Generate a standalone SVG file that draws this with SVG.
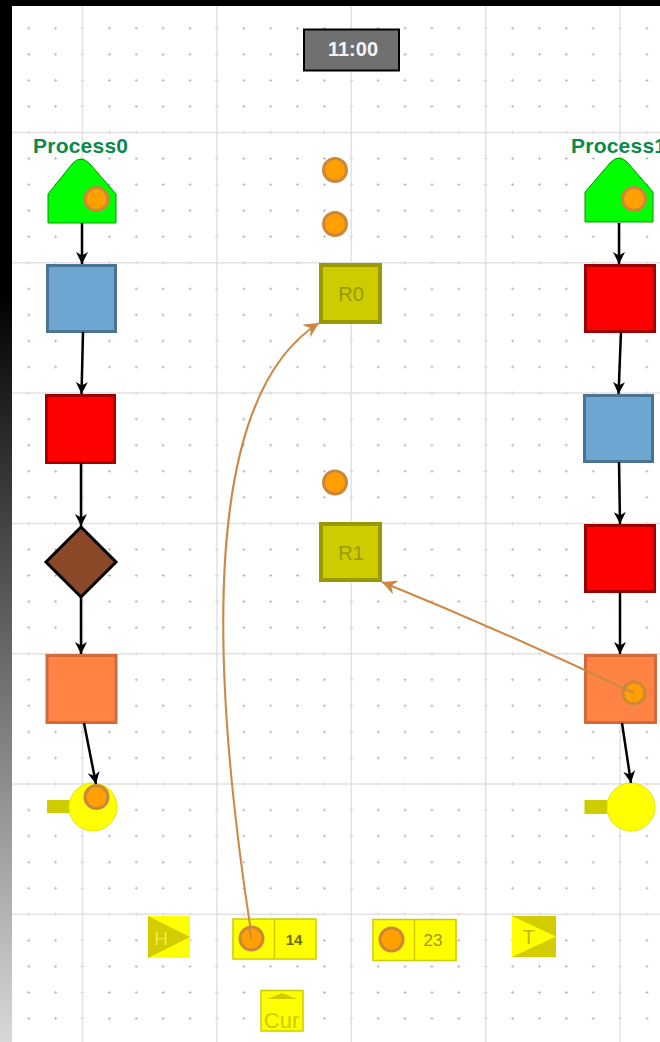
<svg xmlns="http://www.w3.org/2000/svg" width="660" height="1042" viewBox="0 0 660 1042">
  <defs>
    <pattern id="dots" patternUnits="userSpaceOnUse" x="69.06" y="119.47" width="26.88" height="26.06">
      <path d="M11.94,13.03 h3 M13.44,11.53 v3" stroke="#bcbcbc" stroke-width="1"/>
    </pattern>
    <linearGradient id="edge" x1="0" y1="0" x2="0" y2="1">
      <stop offset="0.28" stop-color="#000"/>
      <stop offset="1" stop-color="#d8d8d8"/>
    </linearGradient>
    <marker id="arrow" viewBox="0 0 12 12" refX="12" refY="6" markerWidth="12" markerHeight="12" markerUnits="userSpaceOnUse" orient="auto">
      <path d="M0,0 L12,6 L0,12 L3.5,6 z" fill="#000"/>
    </marker>
    <marker id="arcArrow" viewBox="0 0 12 12" refX="12" refY="6" markerWidth="15" markerHeight="15" markerUnits="userSpaceOnUse" orient="auto">
      <path d="M0,0 L12,6 L0,12 L4,6 z" fill="#cc8844"/>
    </marker>
    <style>
      .major { stroke: #e2e2e2; stroke-width: 1.5; }
      .flow { stroke: #000; stroke-width: 2.5; fill: none; marker-end: url(#arrow); }
      .arc { stroke: #cc8844; stroke-width: 2; fill: none; marker-end: url(#arcArrow); }
      .token { fill: #ffa000; stroke: #cc8838; stroke-width: 3; }
      .label { font-family: "Liberation Sans", Arial, sans-serif; font-weight: bold; font-size: 21px; fill: #0a8a4a; }
      .src { fill: #00ff00; stroke: #009900; stroke-width: 1; }
      .blue { fill: #6ea6d2; stroke: #4a7394; stroke-width: 3; }
      .red { fill: #ff0000; stroke: #a00000; stroke-width: 3; }
      .orange { fill: #ff8444; stroke: #d2693a; stroke-width: 3; }
      .sink { fill: #ffff00; stroke: #e6e600; stroke-width: 1; }
      .tab { fill: #cccc00; }
      .res { fill: #cccc00; stroke: #999900; stroke-width: 4; }
      .restext { font-family: "Liberation Sans", Arial, sans-serif; font-size: 20px; fill: #999900; text-anchor: middle; }
      .qbox { fill: #ffff00; stroke: #cccc00; stroke-width: 1.5; }
    </style>
  </defs>

  <!-- canvas and grid -->
  <rect x="0" y="0" width="660" height="1042" fill="#fff"/>
  <rect x="0" y="0" width="660" height="1042" fill="url(#dots)"/>
  <g id="grid">
    <line class="major" x1="82.5" y1="0" x2="82.5" y2="1042"/>
    <line class="major" x1="216.9" y1="0" x2="216.9" y2="1042"/>
    <line class="major" x1="351.3" y1="0" x2="351.3" y2="1042"/>
    <line class="major" x1="485.7" y1="0" x2="485.7" y2="1042"/>
    <line class="major" x1="620.1" y1="0" x2="620.1" y2="1042"/>
    <line class="major" x1="0" y1="132.5" x2="660" y2="132.5"/>
    <line class="major" x1="0" y1="262.8" x2="660" y2="262.8"/>
    <line class="major" x1="0" y1="393.1" x2="660" y2="393.1"/>
    <line class="major" x1="0" y1="523.4" x2="660" y2="523.4"/>
    <line class="major" x1="0" y1="653.7" x2="660" y2="653.7"/>
    <line class="major" x1="0" y1="784" x2="660" y2="784"/>
    <line class="major" x1="0" y1="914.3" x2="660" y2="914.3"/>
  </g>

  <!-- window frame -->
  <rect x="0" y="0" width="660" height="6" fill="#000"/>
  <rect x="0" y="0" width="12" height="1042" fill="url(#edge)"/>

  <!-- clock -->
  <g id="clock">
    <rect x="304" y="29.5" width="95" height="41" fill="#707070" stroke="#000" stroke-width="2"/>
    <text x="353" y="56" font-family="Liberation Sans, Arial, sans-serif" font-size="20" font-weight="bold" fill="#f4f4f4" text-anchor="middle">11:00</text>
  </g>

  <!-- Process0 column -->
  <g id="process0-label"><text class="label" x="33" y="153" textLength="95">Process0</text></g>
  <g id="p0-source">
    <path class="src" d="M48,223 V194 L72,164 Q81,154 90,164 L116,194 V223 Z"/>
    <circle class="token" cx="96.5" cy="199" r="11.5"/>
  </g>
  <g id="p0-step1"><rect class="blue" x="47.5" y="265.5" width="68" height="66"/></g>
  <g id="p0-step2"><rect class="red" x="46.5" y="395.5" width="68" height="67"/></g>
  <g id="p0-decision"><path d="M81,527 L116,562 L81,597 L46,562 Z" fill="#8b4828" stroke="#000" stroke-width="3" stroke-linejoin="miter"/></g>
  <g id="p0-step3"><rect class="orange" x="47" y="655.5" width="69" height="67"/></g>
  <g id="p0-sink">
    <rect class="tab" x="47" y="800" width="23" height="13"/>
    <circle class="sink" cx="93" cy="807" r="24"/>
    <circle class="token" cx="96.5" cy="797" r="11.5"/>
  </g>

  <!-- Process1 column -->
  <g id="process1-label"><text class="label" x="571" y="153" textLength="95">Process1</text></g>
  <g id="p1-source">
    <path class="src" d="M585,222 V192 L610,163 Q619,153 628,163 L653,192 V222 Z"/>
    <circle class="token" cx="634" cy="199" r="11.5"/>
  </g>
  <g id="p1-step1"><rect class="red" x="585.5" y="265.5" width="69" height="66"/></g>
  <g id="p1-step2"><rect class="blue" x="584.5" y="395.5" width="68" height="66"/></g>
  <g id="p1-step3"><rect class="red" x="585.5" y="525.5" width="69" height="66"/></g>
  <g id="p1-step4">
    <rect class="orange" x="585.5" y="655.5" width="70" height="67"/>
    <circle class="token" cx="634" cy="693" r="11"/>
  </g>
  <g id="p1-sink">
    <rect class="tab" x="584.5" y="800" width="23" height="14"/>
    <circle class="sink" cx="631" cy="807" r="24"/>
  </g>

  <!-- shared resources -->
  <g id="r0-waiting">
    <circle class="token" cx="335" cy="170" r="11.5"/>
    <circle class="token" cx="335" cy="224" r="11.5"/>
  </g>
  <g id="R0">
    <rect class="res" x="321" y="265" width="59" height="57"/>
    <text class="restext" x="351" y="301">R0</text>
  </g>
  <g id="r1-waiting"><circle class="token" cx="335" cy="482.5" r="11.5"/></g>
  <g id="R1">
    <rect class="res" x="321" y="524" width="59" height="56"/>
    <text class="restext" x="351" y="560">R1</text>
  </g>

  <!-- bottom controls -->
  <g id="head">
    <rect x="148" y="916" width="42" height="42" fill="#ffff00"/>
    <path d="M148,916 L190,937 L148,958 Z" fill="#d2cc00"/>
    <text x="161" y="945" font-family="Liberation Sans, Arial, sans-serif" font-size="19" fill="#eeee40" text-anchor="middle">H</text>
  </g>
  <g id="queue0">
    <rect class="qbox" x="233" y="919" width="83" height="40"/>
    <line x1="274.5" y1="919" x2="274.5" y2="959" stroke="#cccc00" stroke-width="1.5"/>
    <text x="294" y="944.5" font-family="Liberation Sans, Arial, sans-serif" font-size="15" font-weight="bold" fill="#6a6a00" text-anchor="middle">14</text>
  </g>
  <g id="queue1">
    <rect class="qbox" x="373" y="919.5" width="83" height="41"/>
    <line x1="414.5" y1="919.5" x2="414.5" y2="960.5" stroke="#cccc00" stroke-width="1.5"/>
    <circle class="token" cx="391.5" cy="939.5" r="11.5"/>
    <text x="433" y="945.5" font-family="Liberation Sans, Arial, sans-serif" font-size="17" fill="#999900" text-anchor="middle">23</text>
  </g>
  <g id="tail">
    <rect x="512" y="916" width="44" height="41" fill="#d2cc00"/>
    <path d="M512,916 L556,936.5 L512,957 Z" fill="#ffff00"/>
    <text x="528.5" y="944" font-family="Liberation Sans, Arial, sans-serif" font-size="20" fill="#bbbb00" text-anchor="middle">T</text>
  </g>
  <g id="cursor">
    <rect class="qbox" x="261" y="990.5" width="42" height="40.5"/>
    <path d="M267,999 L282,993 L297,999 Z" fill="#cccc00"/>
    <text x="281.5" y="1028" font-family="Liberation Sans, Arial, sans-serif" font-size="22" fill="#cccc00" text-anchor="middle">Cur</text>
  </g>

  <!-- connectors -->
  <g id="connectors">
    <line class="flow" x1="82" y1="223" x2="82" y2="264"/>
    <line class="flow" x1="83" y1="332" x2="81.5" y2="394"/>
    <line class="flow" x1="81" y1="463" x2="81" y2="526"/>
    <line class="flow" x1="81" y1="597" x2="81" y2="654"/>
    <line class="flow" x1="84" y1="723" x2="96" y2="784"/>
    <line class="flow" x1="619" y1="223" x2="619" y2="264"/>
    <line class="flow" x1="621" y1="332" x2="618.5" y2="394"/>
    <line class="flow" x1="619" y1="462" x2="620" y2="524"/>
    <line class="flow" x1="620" y1="592" x2="620" y2="654"/>
    <line class="flow" x1="622" y1="723" x2="631" y2="783"/>
    <path class="arc" d="M252,938 C207,650 205,395 319,323"/>
    <path class="arc" d="M634,693 Q505,632 382,582"/>
  </g>

  <!-- token held in the queue, drawn over its arc -->
  <g id="queue0-token"><circle class="token" cx="251.5" cy="938.5" r="11.5"/><path d="M251.5,938.5 L249,927" stroke="#cc8844" stroke-width="2"/></g>
</svg>
